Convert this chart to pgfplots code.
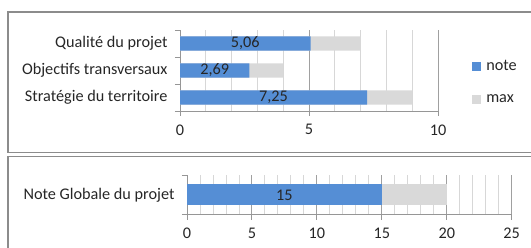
\documentclass[border=0pt]{standalone}
\usepackage{pgfplots}
\pgfplotsset{compat=1.18}
\usepackage{pgfplotstable}
\usepackage{fontspec}
\setmainfont{Carlito}
\definecolor{noteblue}{RGB}{85,142,213}
\definecolor{maxgray}{RGB}{217,217,217}
\definecolor{framegray}{RGB}{140,140,140}
\definecolor{axgray}{RGB}{150,150,150}
\definecolor{majgrid}{RGB}{160,160,160}
\definecolor{mingrid}{RGB}{215,215,215}

\pgfplotstableread{
y note max
0 7.25 9
1 2.69 4
2 5.06 7
}\toptable
\pgfplotstableread{
x y lab
3.625 0 7,25
1.345 1 2,69
2.53 2 5,06
}\toplabels
\pgfplotstableread{
y note max
0 15 20
}\bottable
\pgfplotstableread{
x y lab
7.5 0 15
}\botlabels

\pgfplotsset{
  common/.style={
    anchor=south west, scale only axis,
    xbar, bar shift=0pt,
    axis x line*=bottom, axis y line*=left,
    axis line style={axgray, line width=0.9bp, -},
    tick align=outside,
    major tick length=5bp, minor tick length=5bp,
    major y tick style={draw=none},
    minor x tick style={draw=none},
    x tick style={axgray, line width=0.9bp},
    y tick style={axgray, line width=0.9bp},
    xmajorgrids, xminorgrids,
    major grid style={majgrid, line width=0.9bp},
    minor grid style={mingrid, line width=0.9bp},
    minor x tick num=4,
    /pgf/number format/assume math mode=true,
    ticklabel style={text=black!85},
    yticklabel style={xshift=-4bp},
    xticklabel style={yshift=-5bp},
    legend image code/.code={\fill[#1] (0bp,-4.5bp) rectangle (9bp,4.5bp);
      \path (12bp,0bp);},
  },
  lab/.style={forget plot, sharp plot, draw=none, mark=none,
    nodes near coords, point meta=explicit symbolic,
    every node near coord/.style={anchor=center, text=black!85}},
}

\begin{document}
\begin{tikzpicture}[font=\fontsize{16.3}{19}\selectfont]
\path[use as bounding box] (0,0) rectangle (531bp,248bp);
\draw[framegray, line width=1.3bp] (8bp,236bp) rectangle (560bp,95.5bp);
\draw[framegray, line width=1.3bp] (8bp,91.5bp) rectangle (560bp,-20bp);

\begin{axis}[common,
  at={(180bp,137bp)}, width=258bp, height=81bp,
  xmin=0, xmax=10, ymin=-0.5, ymax=2.5,
  bar width=0.52,
  xtick={0,5,10},
  ytick={0,1,2},
  yticklabels={Stratégie du territoire, Objectifs transversaux, Qualité du projet},
  minor ytick={-0.5,0.5,1.5,2.5},
  reverse legend,
  legend style={at={(1.132,0.355)}, anchor=west, draw=none, fill=none,
    inner sep=0pt, row sep=19bp, text=black!85,
    nodes={inner sep=2bp}},
  legend cell align=left,
]
\addplot[fill=maxgray, draw=none] table[x=max, y=y] {\toptable};
\addlegendentry{max}
\addplot[fill=noteblue, draw=none] table[x=note, y=y] {\toptable};
\addlegendentry{note}
\addplot[lab] table[x=x, y=y, meta=lab] {\toplabels};
\end{axis}

\begin{axis}[common,
  at={(187bp,33.3bp)}, width=324.7bp, height=39.7bp,
  xmin=0, xmax=25, ymin=-0.5, ymax=0.5,
  bar width=0.53,
  xtick={0,5,...,25},
  ytick={0},
  yticklabels={Note Globale du projet},
  minor ytick={-0.5,0.5},
]
\addplot[fill=maxgray, draw=none] table[x=max, y=y] {\bottable};
\addplot[fill=noteblue, draw=none] table[x=note, y=y] {\bottable};
\addplot[lab] table[x=x, y=y, meta=lab] {\botlabels};
\end{axis}
\end{tikzpicture}
\end{document}
